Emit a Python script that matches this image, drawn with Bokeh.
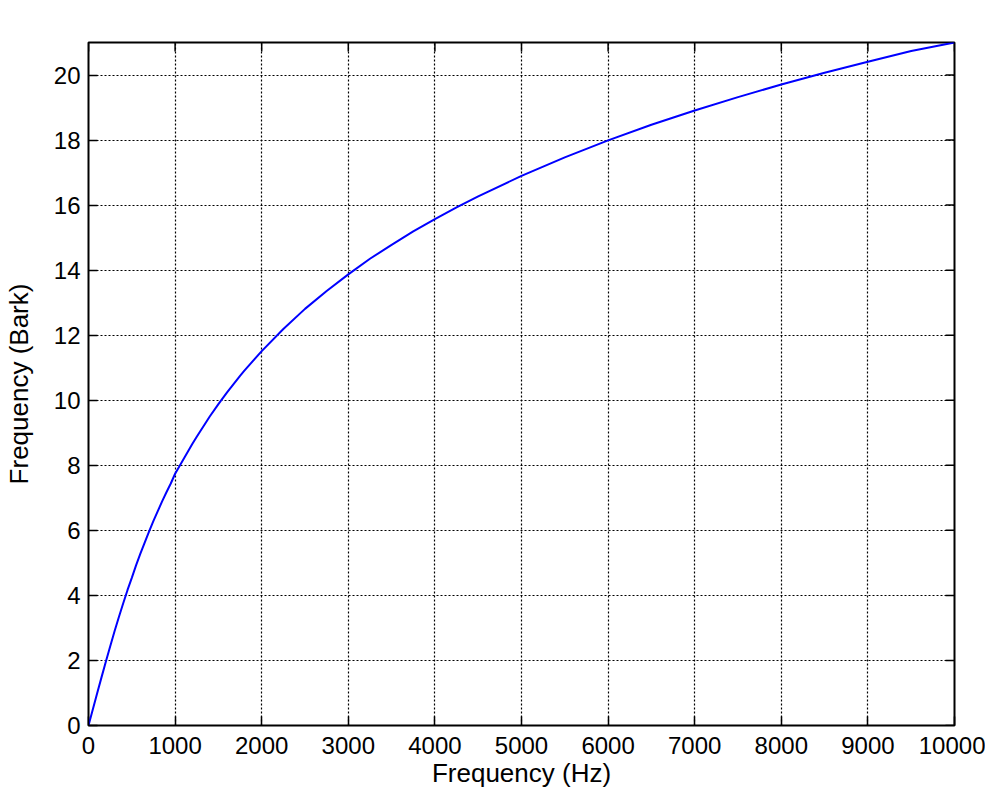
import math
from bokeh.plotting import figure
from bokeh.models import Range1d, FixedTicker, Label
from bokeh.embed import file_html
from bokeh.resources import INLINE

# Data (Hz -> Bark)
freq_hz = [0, 100, 150, 200, 250, 300, 350, 400, 450, 500, 550, 600, 650, 700, 750,
           800, 850, 900, 950, 1000, 1100, 1200, 1250, 1400, 1500, 1600, 1750, 1800,
           2000, 2250, 2500, 2750, 3000, 3250, 3500, 3750, 4000, 4250, 4500, 5000,
           5500, 6000, 6500, 7000, 7500, 8000, 8500, 9000, 9500, 10000]
bark = [0.0, 0.99, 1.48, 1.96, 2.43, 2.89, 3.33, 3.75, 4.16, 4.54, 4.93, 5.29, 5.63,
        5.97, 6.29, 6.59, 6.89, 7.17, 7.44, 7.74, 8.20, 8.66, 8.88, 9.50, 9.88, 10.24,
        10.75, 10.91, 11.51, 12.19, 12.81, 13.36, 13.87, 14.35, 14.78, 15.19, 15.57,
        15.93, 16.27, 16.90, 17.47, 17.99, 18.47, 18.91, 19.32, 19.71, 20.07, 20.41,
        20.74, 21.0]
x_ticks = list(range(0, 10001, 1000))
y_ticks = list(range(0, 21, 2))
X_MAX = 10000
Y_MAX = 21
TITLE = "The Bark Scale"

FONT = "Liberation Sans"

p = figure(width=985, height=793, output_backend="svg", toolbar_location=None,
           x_range=Range1d(0, X_MAX), y_range=Range1d(0, Y_MAX),
           x_axis_label="Frequency (Hz)", y_axis_label="Frequency (Bark)")
p.min_border_left = 88
p.min_border_right = 31
p.min_border_top = 42
p.min_border_bottom = 68

xax = p.below[0]
yax = p.left[0]

# title drawn as a label centred above the frame
title = Label(x=X_MAX / 2, y=Y_MAX, y_offset=19, text=TITLE,
              text_font=FONT, text_font_size="26px", text_color="black",
              text_align="center", text_baseline="alphabetic")
p.add_layout(title)

p.outline_line_color = "black"
p.outline_line_width = 2
p.outline_line_alpha = 1

for g in (p.xgrid[0], p.ygrid[0]):
    g.grid_line_color = "black"
    g.grid_line_dash = "2 2"
    g.grid_line_width = 1.2

xax.ticker = FixedTicker(ticks=x_ticks)
yax.ticker = FixedTicker(ticks=y_ticks)
p.xgrid[0].ticker = FixedTicker(ticks=x_ticks)
p.ygrid[0].ticker = FixedTicker(ticks=y_ticks)

p.line(freq_hz, bark, line_color="#0000FF", line_width=2)

# mirrored inner ticks on the top and right edges (clipped to the frame)
p.scatter(x_ticks, [Y_MAX] * len(x_ticks), marker="dash", size=18,
          angle=math.pi / 2, line_color="black", line_width=1.5)
p.scatter([X_MAX] * len(y_ticks), y_ticks, marker="dash", size=18,
          line_color="black", line_width=1.5)

for ax in (xax, yax):
    ax.axis_line_color = None
    ax.major_tick_in = 9
    ax.major_tick_out = 0
    ax.minor_tick_line_color = None
    ax.major_tick_line_color = "black"
    ax.major_tick_line_width = 1.5
    ax.major_label_text_font = FONT
    ax.major_label_text_font_size = "24px"
    ax.major_label_text_color = "black"
    ax.axis_label_text_font = FONT
    ax.axis_label_text_font_size = "26px"
    ax.axis_label_text_font_style = "normal"
    ax.axis_label_text_color = "black"

xax.major_label_standoff = 11
xax.axis_label_standoff = 1
yax.major_label_standoff = 8
yax.axis_label_standoff = 17

open("out.html", "w").write(file_html(p, INLINE))
